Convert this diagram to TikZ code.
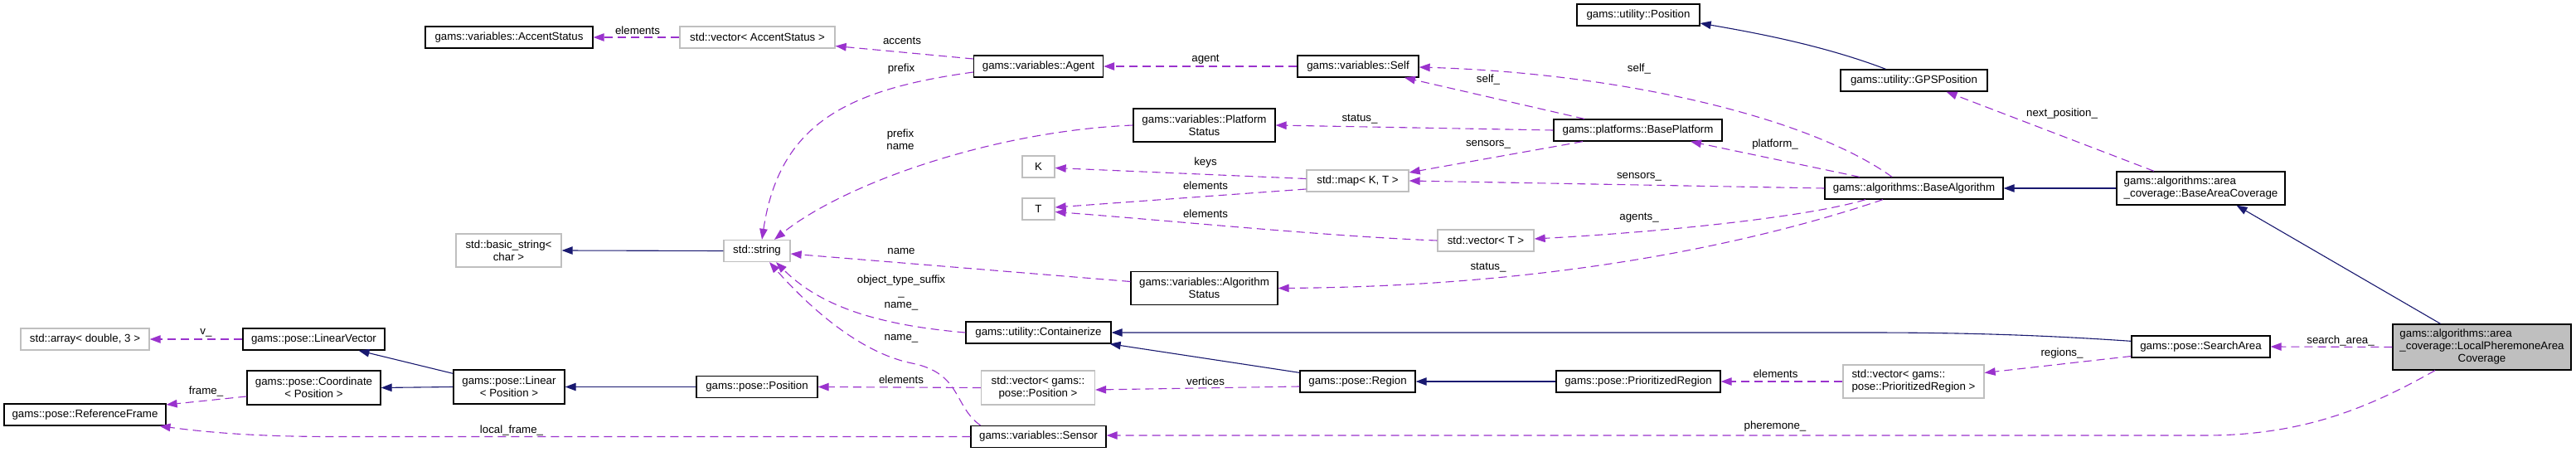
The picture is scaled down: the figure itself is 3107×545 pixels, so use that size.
\documentclass[tikz,border=0pt]{standalone}
\usepackage{fontspec}
\setmainfont{Liberation Sans}
\usetikzlibrary{arrows.meta}
\definecolor{inhblue}{HTML}{191970}
\definecolor{usepurple}{HTML}{9A32CD}
\definecolor{extgray}{HTML}{BFBFBF}
\newcommand\dxfont{\fontsize{13.3}{15}\selectfont}
\begin{document}
\begin{tikzpicture}[x=1pt,y=-1pt,
  every node/.append style={font=\dxfont},
  cls/.style={draw=black, line width=1.3pt, inner sep=0pt, align=center, fill=white},
  ext/.style={draw=extgray, line width=1.3pt, inner sep=0pt, align=center, fill=white},
  lab/.style={inner sep=0pt, align=center},
  inh/.style={draw=inhblue, line width=1.1pt, -{Triangle[length=13pt,width=9.5pt]}},
  use/.style={draw=usepurple, line width=1.1pt, dash pattern=on 10pt off 6pt, -{Triangle[length=13pt,width=9.5pt]}}
]
\useasboundingbox[fill=white] (0,0) rectangle (3107,545);

% ---- nodes ----
\node[cls, minimum width=202pt, minimum height=26pt] (accent) at (614,45) {gams::variables::AccentStatus};
\node[ext, minimum width=187pt, minimum height=26pt] (vas) at (913.5,45) {std::vector< AccentStatus >};
\node[cls, minimum width=156pt, minimum height=26pt] (agent) at (1252.5,80) {gams::variables::Agent};
\node[cls, minimum width=146pt, minimum height=26pt] (self) at (1638,80) {gams::variables::Self};
\node[cls, minimum width=148pt, minimum height=26pt] (upos) at (1976,18) {gams::utility::Position};
\node[cls, minimum width=177pt, minimum height=26pt] (gps) at (2308.5,97) {gams::utility::GPSPosition};
\node[cls, minimum width=171pt, minimum height=40pt] (pstat) at (1452.5,151) {gams::variables::Platform\\Status};
\node[cls, minimum width=203pt, minimum height=26pt] (bplat) at (1975.5,157) {gams::platforms::BasePlatform};
\node[ext, minimum width=39pt, minimum height=26pt] (tk) at (1252.5,201) {K};
\node[ext, minimum width=39pt, minimum height=26pt] (tt) at (1252.5,252) {T};
\node[ext, minimum width=123pt, minimum height=26pt] (map) at (1637.5,218) {std::map< K, T >};
\node[ext, minimum width=116pt, minimum height=26pt] (vt) at (1792,290) {std::vector< T >};
\node[ext, minimum width=127pt, minimum height=40pt] (bstr) at (613.5,302) {std::basic\_string<\\char >};
\node[ext, minimum width=80pt, minimum height=26pt] (str) at (913,302.5) {std::string};
\node[cls, minimum width=177pt, minimum height=40pt] (astat) at (1452.5,347.5) {gams::variables::Algorithm\\Status};
\node[cls, minimum width=215pt, minimum height=26pt] (balg) at (2308.5,227) {gams::algorithms::BaseAlgorithm};
\node[cls, align=left, minimum width=203pt, minimum height=40pt] (bac) at (2654.5,227) {gams::algorithms::area\\\_coverage::BaseAreaCoverage};
\node[cls, fill=extgray, minimum width=215pt, minimum height=55pt] (lpac) at (2993.5,418.5) {\begin{tabular}{@{}l@{}}gams::algorithms::area\\\_coverage::LocalPheremoneArea\\\multicolumn{1}{@{}c@{}}{Coverage}\end{tabular}};
\node[cls, minimum width=175pt, minimum height=26pt] (cont) at (1252.5,401) {gams::utility::Containerize};
\node[ext, minimum width=137pt, minimum height=41pt] (vpos) at (1252,467.5) {std::vector< gams::\\pose::Position >};
\node[cls, minimum width=163pt, minimum height=26pt] (sensor) at (1252.5,526.5) {gams::variables::Sensor};
\node[cls, minimum width=139pt, minimum height=26pt] (region) at (1637.5,460) {gams::pose::Region};
\node[cls, minimum width=198pt, minimum height=26pt] (preg) at (1976,460) {gams::pose::PrioritizedRegion};
\node[ext, align=left, minimum width=170pt, minimum height=40pt] (vpreg) at (2308,460) {std::vector< gams::\\pose::PrioritizedRegion >};
\node[cls, minimum width=167pt, minimum height=26pt] (sarea) at (2654.5,418) {gams::pose::SearchArea};
\node[cls, minimum width=146pt, minimum height=26pt] (ppos) at (913,466.5) {gams::pose::Position};
\node[cls, minimum width=134pt, minimum height=41pt] (linear) at (614,466.5) {gams::pose::Linear\\< Position >};
\node[cls, minimum width=161pt, minimum height=41pt] (coord) at (378.5,467.5) {gams::pose::Coordinate\\< Position >};
\node[cls, minimum width=171pt, minimum height=26pt] (lvec) at (378.5,409) {gams::pose::LinearVector};
\node[ext, minimum width=155pt, minimum height=26pt] (arr) at (102.5,409) {std::array< double, 3 >};
\node[cls, minimum width=195pt, minimum height=26pt] (rf) at (102.5,500) {gams::pose::ReferenceFrame};

% ---- inheritance ----
\draw[inh] (str.west) -- (bstr.east);
\draw[inh] ([yshift=-5pt]linear.north west) -- ([xshift=54pt]lvec.south);
\draw[inh] (linear.west) -- (coord.east);
\draw[inh] (ppos.west) -- (linear.east);
\draw[inh] ([yshift=-3pt]region.north west) -- ([xshift=-2pt]cont.south east);
\draw[inh] (preg.west) -- (region.east);
\draw[inh] ([yshift=-7pt]sarea.north west) .. controls (2450,403) and (2350,401) .. (2250,401) -- (cont.east);
\draw[inh] ([xshift=-34pt]gps.north) .. controls (2200,55) and (2120,40) .. ([yshift=-10pt]upos.east);
\draw[inh] (bac.west) -- (balg.east);
\draw[inh] ([xshift=-50pt]lpac.north) -- ([xshift=43pt]bac.south);

% ---- usage ----
\draw[use] (vas.west) -- (accent.east);
\draw[use] ([yshift=9pt]agent.west) -- ([yshift=-10.5pt]vas.east);
\draw[use] ([yshift=-7pt]agent.west) .. controls (1020,108) and (940,150) .. ([xshift=6pt]str.north);
\draw[use] (pstat.west) .. controls (1200,158) and (1020,220) .. ([xshift=21pt]str.north);
\draw[use] ([yshift=8pt]astat.west) -- ([yshift=-3.5pt]str.east);
\draw[use] (cont.west) .. controls (1060,392) and (990,370) .. ([xshift=23pt]str.south);
\draw[use] ([xshift=-70pt]sensor.north) .. controls (1150,490) and (1160,450) .. (1100,438) .. controls (1040,426) and (980,375) .. ([xshift=15pt]str.south);
\draw[use] (self.west) -- (agent.east);
\draw[use] ([xshift=-64.5pt]bplat.north) -- ([xshift=56pt]self.south);
\draw[use] (bplat.west) -- (pstat.east);
\draw[use] ([xshift=-66.5pt]bplat.south) -- ([yshift=10pt]map.east);
\draw[use] ([yshift=2.5pt]map.west) -- ([yshift=-1.5pt]tk.east);
\draw[use] ([yshift=-10pt]map.west) -- ([yshift=2pt]tt.east);
\draw[use] (vt.west) .. controls (1600,285) and (1400,265) .. ([yshift=-3.5pt]tt.east);
\draw[use] ([xshift=-26.5pt]balg.north) .. controls (2180,140) and (1950,88) .. ([yshift=-1pt]self.east);
\draw[use] ([xshift=-65.5pt]balg.north) -- ([xshift=63.5pt]bplat.south);
\draw[use] (balg.west) -- (map.east);
\draw[use] ([xshift=-58.5pt]balg.south) .. controls (2180,262) and (2000,280) .. ([yshift=2pt]vt.east);
\draw[use] ([xshift=-37.5pt]balg.south) .. controls (2140,285) and (1900,345) .. (astat.east);
\draw[use] ([xshift=-56.5pt]bac.north) -- ([xshift=39pt]gps.south);
\draw[use] (lpac.west) -- (sarea.east);
\draw[use] ([yshift=-11.5pt]sarea.west) -- ([yshift=10.5pt]vpreg.east);
\draw[use] (vpreg.west) -- (preg.east);
\draw[use] ([yshift=-6pt]region.west) -- ([yshift=-2.5pt]vpos.east);
\draw[use] (vpos.west) -- (ppos.east);
\draw[use] (lvec.west) -- (arr.east);
\draw[use] ([yshift=-10.5pt]coord.west) -- ([yshift=12pt]rf.east);
\draw[use] (sensor.west) -- (400,526.5) .. controls (300,526.5) and (240,520) .. ([xshift=90pt]rf.south);
\draw[use] ([xshift=-56.5pt]lpac.south) .. controls (2860,490) and (2780,525) .. (2660,525) -- ([yshift=1.5pt]sensor.east);

% ---- labels ----
\node[lab] (l01) at (769,36.5) {elements};
\node[lab] (l02) at (1088,49) {accents};
\node[lab] (l03) at (1087,83) {prefix};
\node[lab] (l04) at (1086,168) {prefix\\name};
\node[lab] (l05) at (1087,303) {name};
\node[lab] (l06) at (1087,353) {object\_type\_suffix\\\_\\name\_};
\node[lab] (l07) at (1087,408) {name\_};
\node[lab] (l08) at (1087,458) {elements};
\node[lab] (l09) at (1454,72) {agent};
\node[lab] (l10) at (1454,196) {keys};
\node[lab] (l11) at (1454,224) {elements};
\node[lab] (l12) at (1454,258) {elements};
\node[lab] (l13) at (1454,460) {vertices};
\node[lab] (l14) at (1795,96) {self\_};
\node[lab] (l15) at (1640,144) {status\_};
\node[lab] (l16) at (1795,174.5) {sensors\_};
\node[lab] (l17) at (1795,323) {status\_};
\node[lab] (l18) at (1977,83) {self\_};
\node[lab] (l19) at (1977,213) {sensors\_};
\node[lab] (l20) at (1977,263) {agents\_};
\node[lab] (l21) at (2141,174.5) {platform\_};
\node[lab] (l22) at (2141.5,451) {elements};
\node[lab] (l23) at (2141,514) {pheremone\_};
\node[lab] (l24) at (2487,137) {next\_position\_};
\node[lab] (l25) at (2487,426.5) {regions\_};
\node[lab] (l26) at (2823,411) {search\_area\_};
\node[lab] (l27) at (617,519) {local\_frame\_};
\node[lab] (l28) at (248.5,472) {frame\_};
\node[lab] (l29) at (248.5,401.5) {v\_};
\end{tikzpicture}
\end{document}
